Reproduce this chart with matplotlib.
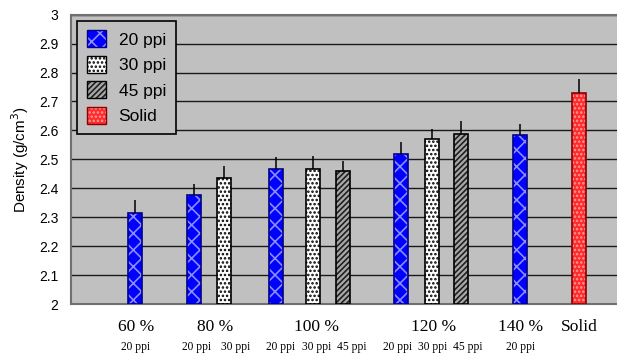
import numpy as np
import matplotlib
matplotlib.use('Agg')
import matplotlib.pyplot as plt
from matplotlib.patches import Patch

plt.rcParams['font.family'] = ['Liberation Sans', 'DejaVu Sans']
plt.rcParams['hatch.linewidth'] = 1.2

# density of each foam / solid sample (g/cm3) and upward error
labels   = ['20 ppi', '20 ppi', '30 ppi', '20 ppi', '30 ppi', '45 ppi',
            '20 ppi', '30 ppi', '45 ppi', '20 ppi', 'Solid']
density  = [2.313, 2.378, 2.434, 2.466, 2.466, 2.459, 2.518, 2.569, 2.588, 2.583, 2.731]
err_up   = [0.048, 0.038, 0.044, 0.043, 0.046, 0.037, 0.042, 0.035, 0.043, 0.039, 0.046]
xpos     = [2.13, 4.1, 5.1, 6.83, 8.07, 9.07, 11.0, 12.03, 13.0, 14.97, 16.93]

groups     = ['60 %', '80 %', '100 %', '120 %', '140 %', 'Solid']
group_x    = [2.16, 4.82, 8.2, 12.07, 14.97, 16.93]
sub_labels = ['20 ppi', '20 ppi', '30 ppi', '20 ppi', '30 ppi', '45 ppi',
              '20 ppi', '30 ppi', '45 ppi', '20 ppi']
sub_x      = [2.17, 4.17, 5.5, 7.0, 8.2, 9.37, 10.88, 12.07, 13.23, 14.97]

# face, hatch colour, hatch, outline
styles = {
    '20 ppi': ('#0000ff', '#8c8cff', 'xx', '#00008b'),
    '30 ppi': ('#ffffff', '#000000', '....', '#000000'),
    '45 ppi': ('#a8a8a8', '#202020', '//////', '#000000'),
    'Solid':  ('#ff2a2a', '#ff9c9c', '....', '#8b0000'),
}

fig = plt.figure(figsize=(6.17, 3.56), dpi=100)
ax = fig.add_axes([0.115, 0.146, 0.885, 0.8127])
ax.set_facecolor('#c0c0c0')

w = 0.48
for x, d, e, lab in zip(xpos, density, err_up, labels):
    face, hcol, hatch, edge = styles[lab]
    ax.bar(x, d - 2, bottom=2, width=w, color=face, edgecolor=hcol,
           hatch=hatch, linewidth=0, zorder=3)
    ax.bar(x, d - 2, bottom=2, width=w, fill=False, edgecolor=edge,
           linewidth=1.2, zorder=4)
    ax.errorbar(x, d, yerr=[[0], [e]], fmt='none', ecolor='black',
                elinewidth=1.1, capsize=0, zorder=5)

ax.set_ylim(2, 3)
ax.set_xlim(0, 18.2)
ax.set_yticks(np.arange(2, 3.01, 0.1))
ax.set_yticklabels(['2'] + ['%.1f' % v for v in np.arange(2.1, 2.95, 0.1)] + ['3'])
ax.yaxis.grid(True, color='#1a1a1a', linewidth=1.0, zorder=1)
ax.set_axisbelow(True)
ax.tick_params(axis='y', length=0, pad=9, labelsize=10)
ax.set_xticks([])
for s in ['left', 'top', 'bottom']:
    ax.spines[s].set_color('#707070')
    ax.spines[s].set_linewidth(1.5)
ax.spines['right'].set_visible(False)

ax.set_ylabel('Density (g/cm$^3$)', fontsize=11, labelpad=6)

tr = ax.get_xaxis_transform()
for x, g in zip(group_x, groups):
    ax.text(x, -0.08, g, transform=tr, ha='center', va='center',
            fontsize=12.5, family='Liberation Serif')
for x, s in zip(sub_x, sub_labels):
    ax.text(x, -0.149, s, transform=tr, ha='center', va='center',
            fontsize=8.3, family='Liberation Serif')

# legend swatches: hatched fill with an outline on top
handles = []
names = ['20 ppi', '30 ppi', '45 ppi', 'Solid']
for lab in names:
    face, hcol, hatch, edge = styles[lab]
    fill = Patch(facecolor=face, edgecolor=hcol, hatch=hatch, linewidth=0)
    rim = Patch(fill=False, edgecolor=edge, linewidth=1.0)
    handles.append((fill, rim))
leg = ax.legend(handles, names, loc='upper left', bbox_to_anchor=(0.011, 0.979),
                borderaxespad=0, fancybox=False, framealpha=1,
                facecolor='#c0c0c0', edgecolor='black', fontsize=12.5,
                handlelength=1.1, handleheight=1.1, labelspacing=0.48,
                handletextpad=0.75, borderpad=0.55)
leg.get_frame().set_linewidth(1.2)
leg.set_zorder(6)

fig.savefig('out.png', dpi=100)
